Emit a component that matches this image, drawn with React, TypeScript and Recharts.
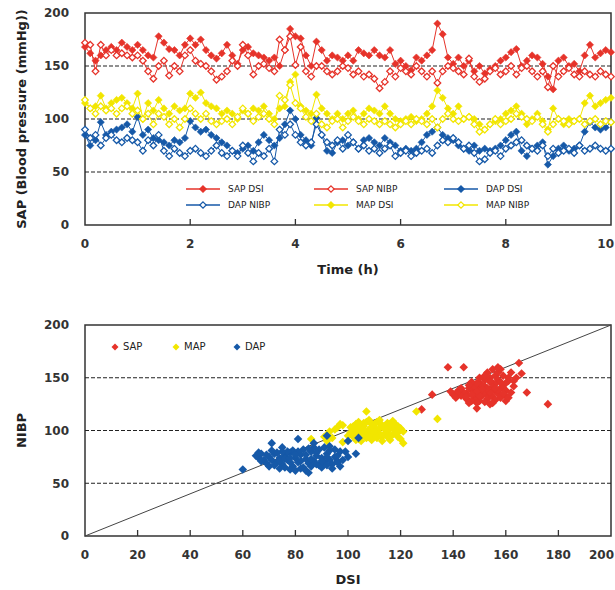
import React from "react";
import {
  LineChart,
  Line,
  ScatterChart,
  Scatter,
  XAxis,
  YAxis,
  ReferenceLine,
  ReferenceArea,
  Legend,
} from "recharts";

const FONT = "'DejaVu Sans', Verdana, sans-serif";
const RED = "#e6332a";
const YELLOW = "#f2e600";
const BLUE = "#1659a8";
const INK = "#333";

// time axis (h)
const hours = [
  0, 0.1, 0.2, 0.3, 0.4, 0.5, 0.6, 0.7, 0.8, 0.9,
  1, 1.1, 1.2, 1.3, 1.4, 1.5, 1.6, 1.7, 1.8, 1.9,
  2, 2.1, 2.2, 2.3, 2.4, 2.5, 2.6, 2.7, 2.8, 2.9,
  3, 3.1, 3.2, 3.3, 3.4, 3.5, 3.6, 3.7, 3.8, 3.9,
  4, 4.1, 4.2, 4.3, 4.4, 4.5, 4.6, 4.7, 4.8, 4.9,
  5, 5.1, 5.2, 5.3, 5.4, 5.5, 5.6, 5.7, 5.8, 5.9,
  6, 6.1, 6.2, 6.3, 6.4, 6.5, 6.6, 6.7, 6.8, 6.9,
  7, 7.1, 7.2, 7.3, 7.4, 7.5, 7.6, 7.7, 7.8, 7.9,
  8, 8.1, 8.2, 8.3, 8.4, 8.5, 8.6, 8.7, 8.8, 8.9,
  9, 9.1, 9.2, 9.3, 9.4, 9.5, 9.6, 9.7, 9.8, 9.9,
  10,
];

const sapDsi = [
  168, 162, 155, 160, 165, 168, 165, 172, 168, 165,
  170, 165, 160, 158, 178, 172, 166, 165, 160, 170,
  176, 170, 175, 165, 160, 157, 162, 170, 160, 152,
  165, 168, 162, 160, 158, 155, 158, 150, 165, 185,
  178, 176, 160, 150, 173, 165, 155, 160, 158, 155,
  160, 155, 165, 162, 160, 165, 160, 158, 165, 152,
  155, 150, 146, 158, 155, 160, 165, 190, 180, 158,
  152, 158, 150, 155, 145, 150, 143, 147, 150, 155,
  158, 163, 166, 150, 155, 160, 158, 152, 140, 128,
  155, 158, 150, 152, 145, 160, 170, 158, 162, 165,
  163,
];

const sapNibp = [
  172, 170, 145, 170, 160, 165, 160, 162, 160, 158,
  160, 155, 145, 138, 150, 155, 141, 150, 145, 160,
  165, 155, 152, 150, 145, 137, 140, 145, 155, 150,
  170, 160, 142, 150, 152, 148, 145, 175, 165, 178,
  151, 168, 145, 140, 150, 150, 145, 142, 145, 150,
  148, 142, 145, 140, 142, 138, 129, 135, 145, 140,
  148, 145, 142, 150, 145, 140, 145, 134, 145, 150,
  148, 145, 142, 157, 140, 135, 138, 145, 148, 142,
  145, 150, 142, 148, 150, 145, 140, 145, 130, 150,
  140, 145, 148, 142, 140, 145, 142, 140, 145, 142,
  140,
];

const dapDsi = [
  85, 75, 80, 97, 85, 88, 90, 92, 95, 88,
  102, 85, 90, 82, 80, 78, 75, 80, 78, 82,
  98, 92, 88, 90, 85, 82, 78, 75, 70, 68,
  72, 75, 70, 78, 85, 80, 75, 82, 95, 108,
  100, 85, 80, 75, 101, 85, 70, 68, 78, 80,
  75, 78, 72, 80, 82, 78, 75, 82, 78, 75,
  70, 72, 70, 72, 78, 85, 88, 92, 85, 82,
  80, 75, 72, 70, 75, 70, 72, 70, 72, 75,
  80, 85, 88, 70, 65, 72, 75, 78, 57, 65,
  72, 75, 70, 72, 75, 88, 97, 92, 90, 92,
  97,
];

const dapNibp = [
  90, 82, 85, 75, 82, 85, 80, 78, 82, 80,
  78, 70, 80, 75, 85, 70, 65, 72, 68, 65,
  70, 72, 68, 65, 70, 75, 68, 65, 70, 65,
  75, 68, 60, 68, 65, 72, 60, 90, 85, 95,
  85, 78, 75, 78, 95, 85, 78, 75, 80, 72,
  85, 78, 72, 75, 70, 72, 68, 72, 75, 65,
  68, 70, 65, 68, 70, 72, 68, 75, 80, 78,
  82, 78, 72, 75, 68, 60, 62, 68, 70, 65,
  72, 75, 78, 80, 75, 72, 70, 75, 65, 72,
  68, 70, 72, 68, 75, 70, 72, 75, 72, 70,
  72,
];

const mapDsi = [
  115, 110, 112, 122, 110, 115, 118, 120, 115, 110,
  124, 100, 115, 108, 118, 110, 105, 112, 108, 110,
  124, 120, 125, 115, 112, 110, 105, 108, 105, 100,
  108, 105, 110, 108, 112, 105, 100, 110, 112, 135,
  142, 112, 108, 105, 123, 110, 105, 100, 105, 100,
  105, 108, 100, 105, 110, 108, 105, 112, 105, 100,
  98, 100, 102, 98, 100, 105, 112, 127, 120, 110,
  105, 112, 100, 102, 100, 95, 90, 95, 98, 100,
  105, 108, 112, 105, 95, 100, 105, 98, 90, 110,
  100, 95, 100, 98, 100, 115, 122, 112, 115, 118,
  120,
];

const mapNibp = [
  118, 110, 105, 112, 108, 110, 105, 110, 112, 105,
  108, 100, 105, 95, 105, 102, 95, 100, 92, 100,
  110, 105, 100, 105, 98, 95, 98, 100, 95, 102,
  110, 105, 98, 102, 105, 100, 95, 122, 118, 132,
  115, 110, 102, 98, 105, 95, 92, 98, 100, 92,
  98, 102, 98, 95, 100, 98, 95, 98, 95, 92,
  95, 98, 95, 100, 98, 95, 100, 92, 100, 105,
  100, 98, 100, 102, 95, 88, 90, 95, 100, 95,
  98, 100, 105, 102, 100, 98, 102, 95, 88, 95,
  100, 98, 95, 98, 100, 95, 98, 100, 95, 98,
  97,
];

// DSI vs NIBP pairs
const sapPairs: [number, number][] = [
  [145, 135], [147, 138], [148, 132], [150, 140], [151, 136], [152, 142], [153, 134], [154, 139], [155, 145], [156, 137],
  [149, 130], [150, 128], [151, 133], [153, 130], [155, 132], [157, 135], [158, 140], [159, 143], [160, 138], [161, 147],
  [146, 140], [148, 142], [150, 145], [152, 148], [154, 150], [156, 152], [157, 155], [158, 158], [155, 158], [153, 155],
  [144, 136], [143, 133], [142, 138], [141, 135], [140, 134], [139, 137], [145, 130], [147, 128], [149, 126], [152, 127],
  [154, 125], [156, 129], [158, 131], [160, 133], [162, 136], [163, 142], [161, 150], [159, 152], [157, 148], [156, 144],
  [151, 143], [149, 145], [147, 146], [146, 143], [150, 150], [152, 152], [154, 146], [155, 141], [157, 138], [159, 135],
  [148, 135], [150, 133], [152, 137], [154, 136], [156, 140], [153, 140], [151, 139], [149, 137], [147, 134], [145, 132],
  [162, 155], [164, 150], [163, 147], [160, 128], [149, 121], [155, 126], [138, 160], [144, 160], [132, 134], [176, 125],
  [168, 136], [165, 164], [166, 154], [160, 145], [158, 146], [143, 140], [141, 131], [146, 126], [161, 131], [157, 160],
  [128, 120],
];

const mapPairs: [number, number][] = [
  [100, 95], [101, 98], [102, 100], [103, 97], [104, 102], [105, 99], [106, 104], [107, 96], [108, 101], [109, 98],
  [110, 103], [111, 100], [112, 97], [113, 105], [114, 101], [115, 99], [116, 103], [117, 96], [118, 100], [119, 94],
  [92, 96], [93, 99], [95, 101], [101, 103], [102, 94], [103, 106], [104, 92], [105, 95], [106, 100], [107, 108],
  [108, 94], [109, 106], [110, 96], [111, 108], [112, 102], [113, 94], [114, 97], [115, 107], [116, 95], [117, 102],
  [118, 106], [119, 98], [120, 92], [120, 102], [117, 109], [112, 110], [108, 110], [104, 108], [94, 93], [97, 106],
  [105, 90], [109, 91], [113, 90], [116, 91], [107, 93], [111, 93], [115, 94], [103, 91], [106, 97], [110, 99],
  [114, 104], [118, 97], [119, 104], [102, 104], [98, 89], [121, 99], [121, 88], [91, 94], [96, 103], [107, 118],
  [126, 118], [134, 111], [86, 92], [92, 90], [98, 105], [106, 107], [112, 107], [116, 106], [110, 106], [104, 105],
];

const dapPairs: [number, number][] = [
  [70, 75], [71, 72], [72, 78], [73, 70], [74, 74], [75, 68], [76, 76], [77, 72], [78, 79], [79, 66],
  [80, 74], [81, 70], [82, 77], [83, 65], [84, 73], [85, 69], [86, 80], [87, 71], [88, 76], [89, 67],
  [90, 74], [91, 70], [92, 78], [93, 72], [94, 68], [95, 75], [96, 71], [97, 66], [66, 74], [67, 78],
  [68, 72], [69, 69], [70, 66], [72, 67], [74, 64], [76, 65], [78, 63], [80, 62], [82, 64], [84, 62],
  [86, 66], [88, 68], [90, 65], [92, 67], [94, 64], [96, 76], [97, 80], [95, 82], [93, 81], [91, 84],
  [89, 82], [87, 84], [85, 83], [83, 82], [81, 80], [79, 81], [77, 80], [75, 80], [73, 79], [71, 81],
  [69, 77], [67, 71], [65, 76], [66, 79], [74, 71], [78, 70], [82, 71], [86, 73], [90, 71], [84, 77],
  [80, 77], [76, 73], [88, 79], [92, 75], [78, 74], [60, 63], [71, 88], [81, 92], [92, 95], [100, 90],
  [104, 93], [103, 78], [99, 80], [96, 70], [93, 85], [87, 88], [98, 72], [100, 75], [85, 60], [75, 84],
];

const timeTicks = [0, 2, 4, 6, 8, 10];
const bpTicks = [0, 50, 100, 150, 200];
const dsiTicks = [0, 20, 40, 60, 80, 100, 120, 140, 160, 180, 200];
const gridLevels = [50, 100, 150];

const series = [
  { key: "sapDsi", name: "SAP DSI", values: sapDsi, color: RED, filled: true },
  { key: "sapNibp", name: "SAP NIBP", values: sapNibp, color: RED, filled: false },
  { key: "dapDsi", name: "DAP DSI", values: dapDsi, color: BLUE, filled: true },
  { key: "dapNibp", name: "DAP NIBP", values: dapNibp, color: BLUE, filled: false },
  { key: "mapDsi", name: "MAP DSI", values: mapDsi, color: YELLOW, filled: true },
  { key: "mapNibp", name: "MAP NIBP", values: mapNibp, color: YELLOW, filled: false },
];

const clusters = [
  { name: "SAP", pairs: sapPairs, color: RED },
  { name: "MAP", pairs: mapPairs, color: YELLOW },
  { name: "DAP", pairs: dapPairs, color: BLUE },
];

const timeData = hours.map((t, i) => {
  const row: Record<string, number> = { t };
  series.forEach((s) => (row[s.key] = s.values[i]));
  return row;
});

const toPoints = (pairs: [number, number][]) => pairs.map(([x, y]) => ({ x, y }));

const diamond = (cx: number, cy: number, r: number) =>
  `M${cx},${cy - r}L${cx + r},${cy}L${cx},${cy + r}L${cx - r},${cy}Z`;

function makeDot(color: string, filled: boolean) {
  return (p: any) => {
    if (p.cx == null || p.cy == null) return <g key={`e-${p.index}`} />;
    return (
      <path
        key={`d-${p.index}`}
        d={diamond(p.cx, p.cy, filled ? 3.6 : 3.3)}
        fill={filled ? color : "#fff"}
        stroke={color}
        strokeWidth={filled ? 0.6 : 1.3}
      />
    );
  };
}

// ticks point inward; last label is kept inside the picture
function makeXTick(edges: number[], last: number) {
  return (p: any) => {
    const { x, y, payload } = p;
    const inner = !edges.includes(payload.value);
    const isLast = payload.value === last;
    return (
      <g>
        {inner && <line x1={x} x2={x} y1={y} y2={y - 6} stroke={INK} strokeWidth={1.3} />}
        <text
          x={isLast ? 614 : x}
          y={y + 23}
          textAnchor={isLast ? "end" : "middle"}
          fontSize={12}
          fontWeight="bold"
          fill={INK}
          fontFamily={FONT}
        >
          {payload.value}
        </text>
      </g>
    );
  };
}

const tickStyle = { fontSize: 12, fontWeight: "bold", fill: INK, fontFamily: FONT };
const titleStyle = { fontSize: 13, fontWeight: "bold", fill: "#222", fontFamily: FONT };

function TimeLegend() {
  return (
    <div
      style={{
        display: "grid",
        gridTemplateColumns: "128px 130px 110px",
        fontFamily: FONT,
        fontSize: 9,
        color: "#222",
      }}
    >
      {series.map((s) => (
        <div key={s.key} style={{ display: "flex", alignItems: "center", height: 16 }}>
          <svg width={34} height={10}>
            <line x1={0} x2={34} y1={5} y2={5} stroke={s.color} strokeWidth={1.5} />
            <path
              d={diamond(17, 5, 3.2)}
              fill={s.filled ? s.color : "#fff"}
              stroke={s.color}
              strokeWidth={1.2}
            />
          </svg>
          <span style={{ marginLeft: 8 }}>{s.name}</span>
        </div>
      ))}
    </div>
  );
}

function PairLegend() {
  return (
    <div style={{ display: "flex", fontFamily: FONT, fontSize: 10, color: "#222" }}>
      {clusters.map((c) => (
        <div key={c.name} style={{ display: "flex", alignItems: "center", width: 61 }}>
          <svg width={8} height={8}>
            <path d={diamond(4, 4, 3.5)} fill={c.color} />
          </svg>
          <span style={{ marginLeft: 4 }}>{c.name}</span>
        </div>
      ))}
    </div>
  );
}

const diamondShape = (color: string) => (p: any) =>
  <path d={diamond(p.cx, p.cy, 4.3)} fill={color} />;

export default function App() {
  return (
    <div
      style={{
        position: "absolute",
        left: 0,
        top: 0,
        width: 615,
        height: 590,
        background: "#fff",
        overflow: "hidden",
      }}
    >
      <div style={{ position: "absolute", left: 0, top: 0 }}>
        <LineChart
          width={615}
          height={290}
          data={timeData}
          margin={{ top: 13, right: 4, bottom: 0, left: 0 }}
        >
          <XAxis
            dataKey="t"
            type="number"
            domain={[0, 10]}
            ticks={timeTicks}
            interval={0}
            height={65}
            axisLine={false}
            tickLine={false}
            tickSize={0}
            tickMargin={0}
            tick={makeXTick([0, 10], 10)}
            label={{ value: "Time (h)", position: "insideBottom", offset: 16, style: titleStyle }}
          />
          <YAxis
            type="number"
            domain={[0, 200]}
            ticks={bpTicks}
            interval={0}
            width={85}
            axisLine={false}
            tickLine={false}
            tickSize={0}
            tickMargin={16}
            tick={tickStyle}
            label={{
              value: "SAP (Blood pressure (mmHg))",
              angle: -90,
              position: "insideLeft",
              offset: 21,
              style: { ...titleStyle, textAnchor: "middle" },
            }}
          />
          {gridLevels.map((v) => (
            <ReferenceLine key={v} y={v} stroke="#222" strokeWidth={1.2} strokeDasharray="4 2" />
          ))}
          <ReferenceArea x1={0} x2={10} y1={0} y2={200} fill="none" stroke={INK} strokeWidth={1.5} />
          {series.map((s) => (
            <Line
              key={s.key}
              dataKey={s.key}
              name={s.name}
              type="linear"
              stroke={s.color}
              strokeWidth={1}
              dot={makeDot(s.color, s.filled)}
              activeDot={false}
              isAnimationActive={false}
            />
          ))}
          <Legend
            layout="horizontal"
            verticalAlign="middle"
            align="center"
            content={TimeLegend}
            wrapperStyle={{ left: 186, top: 181, width: 380 }}
          />
        </LineChart>
      </div>

      <div style={{ position: "absolute", left: 0, top: 300 }}>
        <ScatterChart width={615} height={290} margin={{ top: 25, right: 4, bottom: 0, left: 0 }}>
          <XAxis
            dataKey="x"
            type="number"
            domain={[0, 200]}
            ticks={dsiTicks}
            interval={0}
            height={54}
            axisLine={false}
            tickLine={false}
            tickSize={0}
            tickMargin={0}
            tick={makeXTick([0, 200], 200)}
            label={{ value: "DSI", position: "insideBottom", offset: 6, style: titleStyle }}
          />
          <YAxis
            dataKey="y"
            type="number"
            domain={[0, 200]}
            ticks={bpTicks}
            interval={0}
            width={85}
            axisLine={false}
            tickLine={false}
            tickSize={0}
            tickMargin={16}
            tick={tickStyle}
            label={{
              value: "NIBP",
              angle: -90,
              position: "insideLeft",
              offset: 21,
              style: { ...titleStyle, textAnchor: "middle" },
            }}
          />
          {gridLevels.map((v) => (
            <ReferenceLine key={v} y={v} stroke="#222" strokeWidth={1.2} strokeDasharray="4 2" />
          ))}
          <ReferenceLine
            segment={[
              { x: 0, y: 0 },
              { x: 200, y: 200 },
            ]}
            stroke="#444"
            strokeWidth={1}
          />
          <ReferenceArea x1={0} x2={200} y1={0} y2={200} fill="none" stroke={INK} strokeWidth={1.5} />
          {clusters.map((c) => (
            <Scatter
              key={c.name}
              name={c.name}
              data={toPoints(c.pairs)}
              fill={c.color}
              shape={diamondShape(c.color)}
              isAnimationActive={false}
            />
          ))}
          <Legend
            layout="horizontal"
            verticalAlign="middle"
            align="center"
            content={PairLegend}
            wrapperStyle={{ left: 111, top: 41, width: 200 }}
          />
        </ScatterChart>
      </div>
    </div>
  );
}
